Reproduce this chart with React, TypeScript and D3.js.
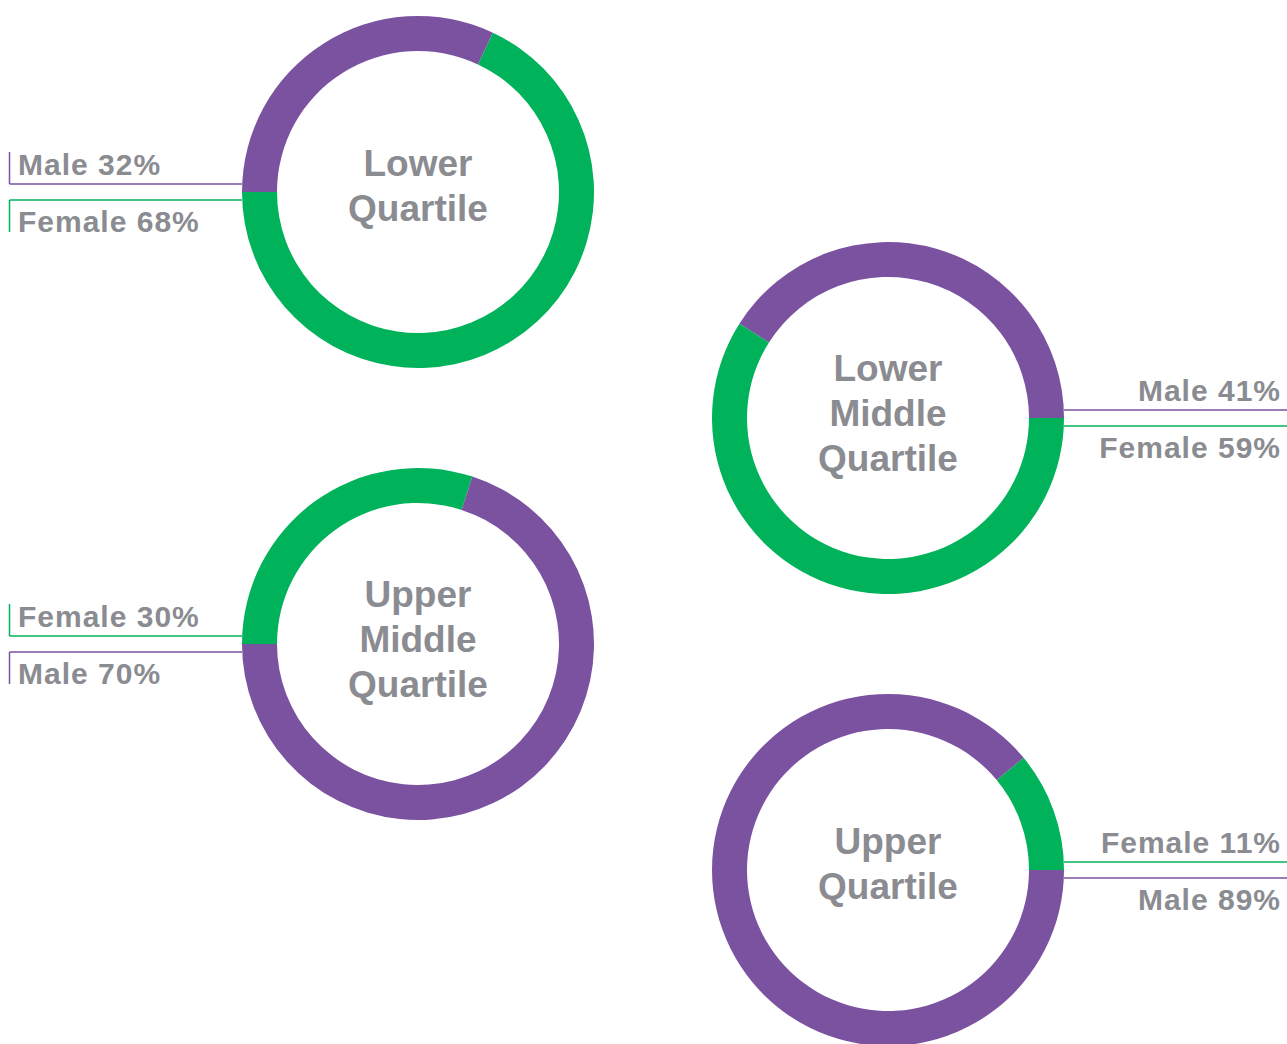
import React from "react";
import * as d3 from "d3";

const quartileNames = [
  ["Lower", "Quartile"],
  ["Lower", "Middle", "Quartile"],
  ["Upper", "Middle", "Quartile"],
  ["Upper", "Quartile"],
];
const maleValues = [32, 41, 70, 89];
const femaleValues = [68, 59, 30, 11];
// which segment comes first (drawn from the label side) for each donut
const firstSeries = ["Male", "Male", "Female", "Female"];
const labelSide = ["left", "right", "left", "right"];

const PURPLE = "#7B52A0";
const GREEN = "#00B259";
const GREY = "#8A8C91";
const FONT = "'Liberation Sans', Arial, Helvetica, sans-serif";

const W = 1287;
const H = 1044;
const R_OUT = 176;
const R_IN = 141;

const xPos = d3.scalePoint<string>().domain(["left", "right"]).range([418, 888]);
const yPos = d3.scaleLinear().domain([0, 3]).range([192, 870]);

export default function App() {
  const arc = d3.arc<any>().innerRadius(R_IN).outerRadius(R_OUT);

  return (
    <svg width={W} height={H} style={{ position: "absolute", left: 0, top: 0 }}>
      <rect width={W} height={H} fill="#fff" />
      {quartileNames.map((lines, i) => {
        const side = labelSide[i];
        const cx = xPos(side)!;
        const cy = yPos(i);
        const first = firstSeries[i];
        const firstVal = first === "Male" ? maleValues[i] : femaleValues[i];
        const secondVal = first === "Male" ? femaleValues[i] : maleValues[i];
        const firstColor = first === "Male" ? PURPLE : GREEN;
        const secondColor = first === "Male" ? GREEN : PURPLE;
        const firstName = first;
        const secondName = first === "Male" ? "Female" : "Male";
        const total = firstVal + secondVal;
        // left side: start at 9 o'clock, go clockwise; right side: start at 3 o'clock, go counterclockwise
        const start = side === "left" ? -Math.PI / 2 : Math.PI / 2;
        const dir = side === "left" ? 1 : -1;
        const mid = start + dir * (firstVal / total) * 2 * Math.PI;
        const end = start + dir * 2 * Math.PI;
        const seg1 = dir > 0 ? { startAngle: start, endAngle: mid } : { startAngle: mid, endAngle: start };
        const seg2 = dir > 0 ? { startAngle: mid, endAngle: end } : { startAngle: end, endAngle: mid };
        const lh = 45;
        const n = lines.length;
        const firstBaseline = cy - ((n - 1) * lh) / 2 + (n === 3 ? 8 : 6);

        const lineY1 = cy - 8;
        const lineY2 = cy + 8;
        const isLeft = side === "left";
        const edgeX = isLeft ? cx - R_OUT : cx + R_OUT;
        const farX = isLeft ? 9.5 : W;
        const textX = isLeft ? 18 : 1281;
        const anchor = isLeft ? "start" : "end";
        return (
          <g key={i}>
            <g transform={`translate(${cx},${cy})`}>
              <path d={arc(seg1)!} fill={firstColor} />
              <path d={arc(seg2)!} fill={secondColor} />
            </g>
            {lines.map((t, k) => (
              <text
                key={k}
                x={cx}
                y={firstBaseline + k * lh}
                textAnchor="middle"
                fontFamily={FONT}
                fontWeight="bold"
                fontSize={37}
                fill={GREY}
              >
                {t}
              </text>
            ))}
            {/* leader lines */}
            <line x1={edgeX} x2={farX} y1={lineY1} y2={lineY1} stroke={firstColor} strokeWidth={1.5} />
            <line x1={edgeX} x2={farX} y1={lineY2} y2={lineY2} stroke={secondColor} strokeWidth={1.5} />
            {isLeft && (
              <>
                <line x1={farX} x2={farX} y1={lineY1 - 32} y2={lineY1} stroke={firstColor} strokeWidth={1.5} />
                <line x1={farX} x2={farX} y1={lineY2} y2={lineY2 + 32} stroke={secondColor} strokeWidth={1.5} />
              </>
            )}
            <text
              x={textX}
              y={lineY1 - 9}
              textAnchor={anchor}
              fontFamily={FONT}
              fontWeight="bold"
              fontSize={30}
              letterSpacing={1}
              fill={GREY}
            >
              {`${firstName} ${firstVal}%`}
            </text>
            <text
              x={textX}
              y={lineY2 + 32}
              textAnchor={anchor}
              fontFamily={FONT}
              fontWeight="bold"
              fontSize={30}
              letterSpacing={1}
              fill={GREY}
            >
              {`${secondName} ${secondVal}%`}
            </text>
          </g>
        );
      })}
    </svg>
  );
}
